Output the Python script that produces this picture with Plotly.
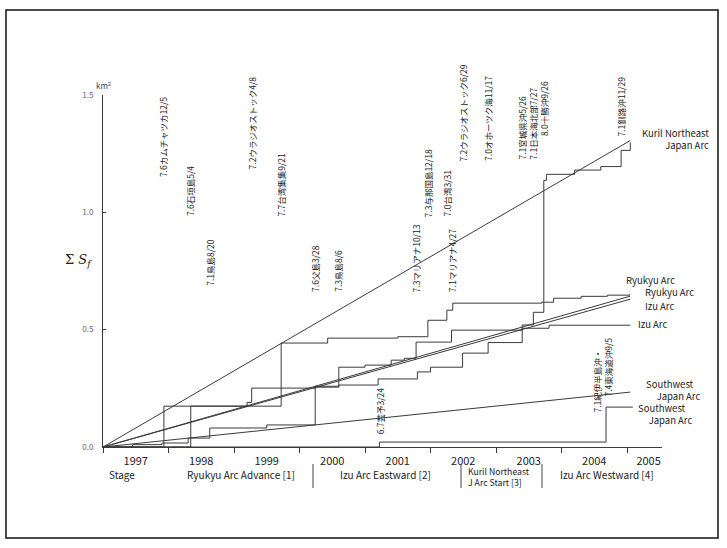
import datetime
import plotly.graph_objects as go

# ---------------- data ----------------
year_ticks = [1997, 1998, 1999, 2000, 2001, 2002, 2003, 2004, 2005]
year_label_pos = [1997.5, 1998.5, 1999.5, 2000.5, 2001.5, 2002.5, 2003.5, 2004.5, 2005.33]
year_labels = ["1997", "1998", "1999", "2000", "2001", "2002", "2003", "2004", "2005"]

# cumulative step series (x = decimal year, y = ΣSf in km²), drawn with hv steps
kuril_x = [1997.0, 1997.93, 1999.20, 1999.27, 2000.24, 2000.60, 2001.2, 2001.8, 2002.0,
           2002.49, 2002.88, 2003.40, 2003.57, 2003.73, 2003.77, 2004.2, 2004.6, 2004.91, 2005.05]
kuril_y = [0.0, 0.174, 0.19, 0.251, 0.259, 0.264, 0.29, 0.32, 0.34,
           0.40, 0.445, 0.52, 0.574, 1.136, 1.162, 1.18, 1.195, 1.264, 1.298]

ryukyu_x = [1997.0, 1998.34, 1999.72, 2000.43, 2001.5, 2001.96, 2002.25, 2002.34,
            2003.70, 2003.88, 2004.3, 2004.7, 2005.04]
ryukyu_y = [0.0, 0.174, 0.443, 0.464, 0.47, 0.54, 0.583, 0.613,
            0.617, 0.634, 0.642, 0.647, 0.651]

izu_x = [1997.0, 1997.45, 1997.90, 1998.30, 1998.63, 1999.5, 2000.24, 2000.60, 2001.0,
         2001.4, 2001.6, 2001.78, 2002.32, 2003.40, 2003.81, 2005.05]
izu_y = [0.0, 0.01, 0.017, 0.038, 0.081, 0.094, 0.255, 0.34, 0.349,
         0.37, 0.378, 0.447, 0.498, 0.506, 0.519, 0.519]

sw_x = [1997.0, 2001.22, 2004.68, 2005.09]
sw_y = [0.0, 0.021, 0.17, 0.17]

# linear trend lines (start, end)
trend_x = [1997.0, 2005.05]
kuril_trend = [0.0, 1.306]
ryukyu_trend = [0.0, 0.643]
izu_trend = [0.0, 0.630]
sw_trend = [0.0, 0.234]

# earthquake labels: text, (year, month, day)
events = [
    ("7.6カムチャツカ12/5", (1997, 12, 5)),
    ("7.6石垣島5/4", (1998, 5, 4)),
    ("7.1鳥島8/20", (1998, 8, 20)),
    ("7.2ウラジオストック4/8", (1999, 4, 8)),
    ("7.7台湾集集9/21", (1999, 9, 21)),
    ("7.6父島3/28", (2000, 3, 28)),
    ("7.3鳥島8/6", (2000, 8, 6)),
    ("6.7芸予3/24", (2001, 3, 24)),
    ("7.3マリアナ10/13", (2001, 10, 13)),
    ("7.3与那国島12/18", (2001, 12, 18)),
    ("7.0台湾3/31", (2002, 3, 31)),
    ("7.1マリアナ4/27", (2002, 4, 27)),
    ("7.2ウラジオストック6/29", (2002, 6, 29)),
    ("7.0オホーツク海11/17", (2002, 11, 17)),
    ("7.1宮城県沖5/26", (2003, 5, 26)),
    ("7.1日本海北部7/27", (2003, 7, 27)),
    ("8.0十勝沖9/26", (2003, 9, 26)),
    ("7.1紀伊半島沖・", (2004, 9, 5)),
    ("7.4東海道沖9/5", (2004, 9, 5)),
    ("7.1釧路沖11/29", (2004, 11, 29)),
]

stage_labels = ["Stage", "Ryukyu Arc Advance [1]", "Izu Arc Eastward [2]",
                "Kuril Northeast<br>J Arc Start [3]", "Izu Arc Westward [4]"]

series_labels = ["Kuril Northeast<br>Japan Arc", "Ryukyu Arc", "Ryukyu Arc", "Izu Arc", "Izu Arc",
                 "Southwest<br>&nbsp;&nbsp;&nbsp;&nbsp;&nbsp;Japan Arc",
                 "Southwest<br>&nbsp;&nbsp;&nbsp;&nbsp;&nbsp;Japan Arc"]

# ---------------- layout helpers (pixel positions) ----------------
X0, X1, Y0, Y1 = 103, 662, 447, 95     # plot area in pixels
XR = (1997.0, 1997.0 + (X1 - X0) / 65.5)


def dec(ymd):
    y, m, d = ymd
    doy = datetime.date(y, m, d).timetuple().tm_yday
    n = 366 if datetime.date(y, 12, 31).timetuple().tm_yday == 366 else 365
    return y + (doy - 0.5) / n


def py_y(py):
    return (Y0 - py) / 235.0


def pap_x(px):
    return (px - X0) / (X1 - X0)


def pap_y(py):
    return (Y0 - py) / (Y0 - Y1)


LINE = "#3a3a3a"
FONT = "Noto Sans CJK JP"

fig = go.Figure()


def add_line(x, y, shape="linear", color=LINE, width=1):
    fig.add_trace(go.Scatter(x=x, y=y, mode="lines", line=dict(color=color, width=width, shape=shape),
                             hoverinfo="skip", showlegend=False))


add_line(trend_x, kuril_trend)
add_line(trend_x, ryukyu_trend)
add_line(trend_x, izu_trend)
add_line(trend_x, sw_trend)
add_line(kuril_x, kuril_y, "hv")
add_line(ryukyu_x, ryukyu_y, "hv")
add_line(izu_x, izu_y, "hv")
add_line(sw_x, sw_y, "hv")

annotations = []

# event labels (rotated)
label_bottom_px = [178, 217, 287, 170, 217, 293, 293, 435, 293, 218, 217, 293,
                   162, 162, 160, 160, 137, 413, 397, 137]
label_xshift = [0] * len(events)
label_xshift[17] = -9
label_xshift[18] = 2
for (txt, ymd), bpx, xs in zip(events, label_bottom_px, label_xshift):
    annotations.append(dict(x=dec(ymd), y=py_y(bpx), xref="x", yref="y", text=txt,
                            textangle=-90, xanchor="center", yanchor="bottom", showarrow=False,
                            xshift=xs, borderpad=0,
                            font=dict(family=FONT, size=8.5, color="#222")))

# series labels at right: (anchor x px, centre y px, xanchor, align)
series_pos = [(710, 139, "right", "right"), (625, 280, "left", "left"),
              (644, 292, "left", "left"), (644, 306, "left", "left"),
              (637, 324, "left", "left"), (645, 390, "left", "left"),
              (637, 414, "left", "left")]
for txt, (lx, ly, anc, al) in zip(series_labels, series_pos):
    annotations.append(dict(x=pap_x(lx), y=pap_y(ly), xref="paper", yref="paper", text=txt,
                            xanchor=anc, yanchor="middle", align=al, showarrow=False, borderpad=0,
                            font=dict(family=FONT, size=9.5, color="#222")))

# stage labels
stage_pos = [(122, 474, "center", 10), (241, 474, "center", 10), (385, 474, "center", 10),
             (467, 477, "left", 8.7), (607, 474, "center", 10)]
for txt, (sx, sy, anc, fs) in zip(stage_labels, stage_pos):
    annotations.append(dict(x=pap_x(sx), y=pap_y(sy), xref="paper", yref="paper", text=txt,
                            xanchor=anc, yanchor="middle", showarrow=False, align="left",
                            borderpad=0, font=dict(family=FONT, size=fs, color="#222")))

# axis titles
annotations.append(dict(x=pap_x(78), y=pap_y(260), xref="paper", yref="paper",
                        text="Σ <i>S</i><sub><i>f</i></sub>", showarrow=False,
                        xanchor="center", yanchor="middle", borderpad=0,
                        font=dict(family="DejaVu Serif", size=13, color="#222")))
annotations.append(dict(x=pap_x(103), y=pap_y(86), xref="paper", yref="paper",
                        text="km<sup>2</sup>", showarrow=False, xanchor="center", yanchor="middle",
                        borderpad=0, font=dict(family=FONT, size=8, color="#444")))

shapes = [
    dict(type="rect", xref="paper", yref="paper", x0=pap_x(6), x1=pap_x(718), y0=pap_y(538),
         y1=pap_y(10), line=dict(color="#111", width=1.5), fillcolor="rgba(0,0,0,0)", layer="below"),
]
for sx in [313, 461, 542]:
    shapes.append(dict(type="line", xref="paper", yref="paper", x0=pap_x(sx), x1=pap_x(sx),
                       y0=pap_y(464), y1=pap_y(488), line=dict(color="#444", width=1)))

fig.update_layout(
    width=727, height=548, autosize=False,
    margin=dict(l=X0, r=727 - X1, t=Y1, b=548 - Y0, pad=0),
    plot_bgcolor="white", paper_bgcolor="white",
    showlegend=False,
    annotations=annotations, shapes=shapes,
    xaxis=dict(range=list(XR), showline=True, linecolor=LINE, linewidth=1, showgrid=False,
               zeroline=False, tickmode="array", tickvals=year_label_pos, ticktext=year_labels,
               ticks="", ticklabelstandoff=4,
               tickfont=dict(family=FONT, size=11, color="#222"),
               minor=dict(tickmode="array", tickvals=year_ticks, ticks="outside", ticklen=5,
                          tickcolor=LINE, tickwidth=1)),
    yaxis=dict(range=[0, 1.5], showline=True, linecolor=LINE, linewidth=1, showgrid=False,
               zeroline=False, tickmode="array", tickvals=[0, 0.5, 1.0, 1.5],
               ticktext=["0.0", "0.5", "1.0", "1.5"], ticks="inside", ticklen=3, tickcolor=LINE,
               ticklabelstandoff=7, tickfont=dict(family=FONT, size=8, color="#666")),
)

fig.write_html("out.html", config={"displayModeBar": False, "staticPlot": True},
               post_script="document.body.style.margin='0';document.body.style.overflow='hidden';")
